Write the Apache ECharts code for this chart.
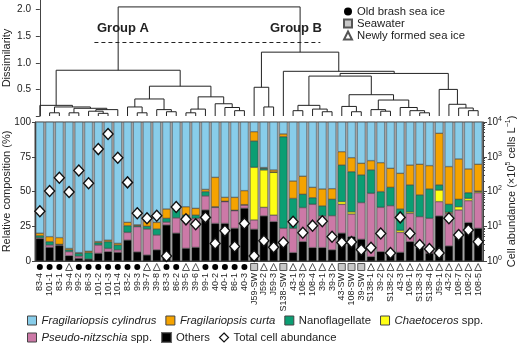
<!DOCTYPE html>
<html>
<head>
<meta charset="utf-8">
<script src="https://cdn.jsdelivr.net/npm/echarts@6/dist/echarts.min.js"></script>
<style>
  html, body { margin: 0; padding: 0; background: #fff; }
  #chart { width: 520px; height: 345px; }
</style>
</head>
<body>
<div id="chart"></div>
<script>
// samples, in dendrogram order
var samples = ['83-4', '101-1', '83-1', '39-4', '99-2', '86-3', '101-2', '101-3', '101-4', '83-2',
    '99-3', '39-7', '39-8', '83-3', '86-2', '39-5', '39-6', '99-1', '40-2', '40-1', '86-1', '40-3',
    'J59-SW', 'J59-2', 'J59-3', 'S138-SW', '43-1', '108-3', '108-4', '39-1', '39-3', '43-SW', '108-SW',
    '39-SW', 'S138-1', '39-2', 'S138-2', '43-3', '108-1', 'S138-3', 'S138-4', 'J59-1', '43-2', '108-7',
    '108-2', '108-5'];

// O = old brash sea ice, S = seawater, N = newly formed sea ice
var sampleType = ['O', 'O', 'O', 'N', 'O', 'O', 'O', 'O', 'O', 'O', 'O', 'N', 'N', 'O', 'O', 'N', 'N', 'O',
    'O', 'O', 'O', 'O', 'S', 'N', 'N', 'S', 'N', 'N', 'N', 'N', 'N', 'S', 'S', 'S', 'N', 'N', 'N', 'N', 'N',
    'N', 'N', 'N', 'N', 'N', 'N', 'N'];

// relative composition (%)
var others = [16, 9.8, 11, 3.8, 1.9, 1.4, 5.5, 6.7, 6.2, 15, 6.5, 4.3, 8, 25.9, 20, 9.1, 9.8, 36.7, 27, 27,
    23.5, 37.9, 22.8, 32.4, 28.3, 13.9, 6, 13.9, 9.6, 9.6, 8, 20, 17.5, 15.6, 3.1, 6.7, 6.7, 6.2, 13.9, 9.8,
    5.5, 32.4, 10.8, 19.2, 27.6, 23.5];
var pseudo = [0.7, 1.7, 0.5, 2.9, 1.6, 0, 6, 2.3, 1.8, 5.6, 18.2, 18.7, 10.7, 2.1, 11, 22.1, 20.9, 10.1, 11.6,
    15.7, 12.7, 2.4, 6.7, 6.2, 4.7, 9.6, 17.5, 24.5, 31.2, 22.8, 24.6, 20.8, 16.3, 26.4, 45.6, 31.9, 33.1,
    14.4, 20.4, 22.1, 25.2, 10.3, 23.5, 17.5, 15.8, 25.6];
var chaetoceros = [0, 0, 0, 0, 0, 0, 0, 0, 0, 0, 0, 0, 0, 0, 0, 0, 0, 0, 0, 0, 0, 0, 37.9, 26.9, 30.8, 0, 0,
    0, 0, 0, 0, 1.9, 1.5, 0, 0, 0, 0, 1.4, 1, 0, 0, 8.3, 0.7, 2.3, 1.6, 0.9];
var nano = [1.5, 2.4, 0.5, 1.3, 2, 4.6, 1.7, 4.9, 3.5, 4.8, 0.7, 2, 4.3, 2.7, 7.6, 1.8, 2.3, 3.1, 0.4, 0.3,
    0.3, 0.2, 18.9, 1.2, 0.2, 65.9, 21.5, 9.6, 4.7, 7.2, 11.8, 26.3, 28.9, 19.9, 16.8, 11.3, 13.2, 15.4,
    19.4, 15.6, 21.1, 3.7, 5.8, 5.4, 4.1, 0.3];
var curta = [1.8, 3.6, 4.8, 1, 0.5, 1, 0.8, 1.1, 1.2, 2.4, 0.6, 3.5, 4.8, 6.7, 0.4, 6, 4.9, 1.6, 21.2, 2.8,
    9.3, 10.1, 6.7, 0.5, 1.5, 2, 12.5, 13, 7.5, 12.2, 7.6, 9.6, 10.1, 8.4, 6.7, 20.8, 13.7, 25.7, 14.3,
    22.1, 16.8, 37.2, 27.1, 29, 17.1, 19.3];

// total cell abundance (x10^5 cells per L)
var abundance = [27, 103, 250, 97, 400, 172, 1660, 4500, 940, 183, 23.6, 17, 20, 1.4, 36, 15.8, 11.4, 18,
    3.2, 7.4, 2.6, 12, 1.4, 3.8, 2.5, 3.4, 13.5, 6.5, 10.4, 14, 5, 3.4, 3.5, 2.1, 2.4, 6.2, 1.7, 18, 6.2,
    2.9, 2.2, 1.7, 17, 5.6, 7.8, 3.6];

// dendrogram merges: [child, child, dissimilarity]; ids < 46 are samples, 46+ are earlier merges
var merges = [
    [1, 2, 0.06], [3, 4, 0.06], [6, 7, 0.05], [5, 48, 0.09], [49, 8, 0.12], [47, 50, 0.145],
    [46, 51, 0.17], [0, 52, 0.2], [10, 11, 0.06], [9, 54, 0.17], [13, 14, 0.08], [12, 56, 0.12],
    [55, 57, 0.32], [15, 16, 0.06], [59, 17, 0.13], [20, 21, 0.1], [19, 61, 0.16], [18, 62, 0.23],
    [60, 63, 0.36], [58, 64, 0.56], [53, 65, 0.86],
    [23, 24, 0.17], [22, 67, 0.54], [26, 27, 0.1], [29, 30, 0.08], [28, 70, 0.13], [69, 71, 0.2],
    [32, 33, 0.08], [31, 73, 0.18], [35, 36, 0.09], [34, 75, 0.12], [39, 40, 0.06], [38, 77, 0.1],
    [37, 78, 0.16], [76, 79, 0.3], [74, 80, 0.4], [72, 81, 0.75], [44, 45, 0.1], [43, 83, 0.15],
    [42, 84, 0.22], [41, 85, 0.5], [82, 86, 0.8], [25, 87, 0.84], [68, 88, 1.2], [66, 89, 2.05]
];
var cutHeight = 1.39;
var cutFrom = 5.6, cutTo = 28.8;

// leaf/merge positions for the dendrogram
var nodeX = [], nodeH = [];
samples.forEach(function (s, i) { nodeX.push(i); nodeH.push(0); });
merges.forEach(function (m) {
    nodeX.push((nodeX[m[0]] + nodeX[m[1]]) / 2);
    nodeH.push(m[2]);
});
var dendroData = merges.map(function (m) {
    return [nodeX[m[0]], nodeH[m[0]], nodeX[m[1]], nodeH[m[1]], m[2]];
});

function noZero(arr) {
    return arr.map(function (v) { return v > 0 ? v : '-'; });
}
var cylindrus = samples.map(function (s, i) {
    return +(100 - others[i] - pseudo[i] - chaetoceros[i] - nano[i] - curta[i]).toFixed(1);
});
function typeData(t) {
    return sampleType.map(function (v, i) { return v === t ? [i, 0] : null; }).filter(function (d) { return d; });
}

var txt = '#222';
var lgFont = 11.3;
var ital = { i: { fontStyle: 'italic', fontSize: lgFont, color: txt } };

var chart = echarts.init(document.getElementById('chart'));

function barSeries(name, data, color) {
    return {
        name: name, type: 'bar', stack: 'comp', xAxisIndex: 0, yAxisIndex: 0,
        barCategoryGap: '18%', data: noZero(data),
        itemStyle: { color: color, borderColor: 'rgba(40,40,40,0.7)', borderWidth: 0.5 }
    };
}

var option = {
    animation: false,
    textStyle: { fontFamily: 'Liberation Sans, Arial, sans-serif' },
    grid: [
        { left: 35, right: 37, top: 122, height: 139, outerBoundsMode: 'none', show: true, backgroundColor: '#a4a4a4', borderColor: '#444', borderWidth: 1 },
        { left: 35, right: 37, top: 0, height: 116, outerBoundsMode: 'none' },
        { left: 35, right: 37, top: 263, height: 8, outerBoundsMode: 'none' }
    ],
    legend: [
        {
            orient: 'vertical', left: 338, top: 1, itemGap: 1, itemWidth: 8, itemHeight: 8,
            textStyle: { fontSize: 11.3, color: txt },
            data: ['Old brash sea ice', 'Seawater', 'Newly formed sea ice'], selectedMode: false
        },
        {
            left: 27, top: 315, width: 493, padding: 0, itemGap: 9, itemWidth: 9, itemHeight: 9, icon: 'rect',
            textStyle: { fontSize: lgFont, color: txt, rich: ital },
            itemStyle: { borderColor: '#444', borderWidth: 1 },
            data: ['Fragilariopsis cylindrus', 'Fragilariopsis curta', 'Nanoflagellate', 'Chaetoceros spp.'],
            formatter: legendFmt, selectedMode: false
        },
        {
            left: 27, top: 332, width: 493, padding: 0, itemGap: 9, itemWidth: 9, itemHeight: 9,
            textStyle: { fontSize: lgFont, color: txt, rich: ital },
            data: [{ name: 'Pseudo-nitzschia spp.', icon: 'rect', itemStyle: { borderColor: '#444', borderWidth: 1 } },
                { name: 'Others', icon: 'rect' },
                { name: 'Total cell abundance', icon: 'diamond', itemStyle: { color: '#fff', borderColor: '#111', borderWidth: 1.2 } }],
            formatter: legendFmt, selectedMode: false
        }
    ],
    graphic: [
        { type: 'text', left: 97, top: 22, style: { text: 'Group A', font: 'bold 13px Liberation Sans, Arial', fill: txt } },
        { type: 'text', left: 270, top: 22, style: { text: 'Group B', font: 'bold 13px Liberation Sans, Arial', fill: txt } }
    ],
    xAxis: [
        {
            type: 'category', gridIndex: 0, data: samples,
            axisTick: { show: false }, axisLine: { lineStyle: { color: '#444' } },
            axisLabel: { interval: 0, rotate: 90, fontSize: 9, color: txt, margin: 12 }
        },
        { type: 'value', gridIndex: 1, min: -0.5, max: samples.length - 0.5, show: false },
        { type: 'category', gridIndex: 2, data: samples, show: false }
    ],
    yAxis: [
        {
            type: 'value', gridIndex: 0, min: 0, max: 100, interval: 25,
            name: 'Relative composition (%)', nameLocation: 'middle', nameGap: 23, nameMoveOverlap: false,
            nameTextStyle: { fontSize: 11, color: txt },
            axisLine: { show: true, lineStyle: { color: '#444' } },
            axisTick: { show: true, length: 3, lineStyle: { color: '#444' } },
            axisLabel: { fontSize: 10, color: txt, margin: 4 },
            splitLine: { show: false }
        },
        {
            type: 'log', gridIndex: 0, min: 1, max: 10000, logBase: 10, position: 'right',
            name: 'Cell abundance (\u00d710{s|5} cells L{s|\u22121})', nameLocation: 'middle', nameGap: 22, nameRotate: 90,
            nameMoveOverlap: false,
            nameTextStyle: { fontSize: 11, color: txt, rich: { s: { fontSize: 7, color: txt, padding: [0, 0, 6, 0] } } },
            axisLine: { show: true, lineStyle: { color: '#444' } },
            axisTick: { show: true, length: 4, lineStyle: { color: '#444' } },
            minorTick: { show: true, splitNumber: 9, length: 2, lineStyle: { color: '#444' } },
            axisLabel: {
                fontSize: 10, color: txt, margin: 4,
                formatter: function (v) { return '10{s|' + Math.round(Math.log10(v)) + '}'; },
                rich: { s: { fontSize: 7, color: txt, padding: [0, 0, 6, 0] } }
            },
            splitLine: { show: false }
        },
        {
            type: 'value', gridIndex: 1, min: 0, max: 2.18, interval: 0.5,
            name: 'Dissimilarity', nameLocation: 'middle', nameGap: 23, nameMoveOverlap: false,
            nameTextStyle: { fontSize: 11, color: txt },
            axisLine: { show: true, lineStyle: { color: '#444' } },
            axisTick: { show: true, length: 4, lineStyle: { color: '#444' } },
            axisLabel: {
                fontSize: 10, color: txt, margin: 4, showMaxLabel: false,
                formatter: function (v) { return v === 0 ? '' : v.toFixed(1); }
            },
            splitLine: { show: false }
        },
        { type: 'value', gridIndex: 2, min: -1, max: 1, show: false }
    ],
    series: [
        barSeries('Others', others, '#000'),
        barSeries('Pseudo-nitzschia spp.', pseudo, '#cc79a7'),
        barSeries('Chaetoceros spp.', chaetoceros, '#ffff14'),
        barSeries('Nanoflagellate', nano, '#0b9e73'),
        barSeries('Fragilariopsis curta', curta, '#f5a300'),
        barSeries('Fragilariopsis cylindrus', cylindrus, '#88cdea'),
        {
            name: 'Total cell abundance', type: 'scatter', xAxisIndex: 0, yAxisIndex: 1,
            symbol: 'diamond', symbolSize: [10, 11], data: abundance, z: 5,
            itemStyle: { color: '#fff', opacity: 1, borderColor: '#111', borderWidth: 1.4 }
        },
        {
            type: 'custom', xAxisIndex: 1, yAxisIndex: 2, data: dendroData, silent: true,
            renderItem: function (params, api) {
                var a0 = api.coord([api.value(0), api.value(1)]);
                var a1 = api.coord([api.value(0), api.value(4)]);
                var b1 = api.coord([api.value(2), api.value(4)]);
                var b0 = api.coord([api.value(2), api.value(3)]);
                return {
                    type: 'polyline',
                    shape: { points: [a0, a1, b1, b0] },
                    style: { stroke: '#222', lineWidth: 1, fill: null }
                };
            },
            markLine: {
                silent: true, symbol: 'none', label: { show: false },
                lineStyle: { color: '#222', type: [4, 3], width: 1 },
                data: [[{ coord: [cutFrom, cutHeight] }, { coord: [cutTo, cutHeight] }]]
            }
        },
        {
            name: 'Old brash sea ice', type: 'scatter', xAxisIndex: 2, yAxisIndex: 3,
            symbol: 'circle', symbolSize: 6, data: typeData('O'),
            itemStyle: { color: '#000', opacity: 1 }
        },
        {
            name: 'Seawater', type: 'scatter', xAxisIndex: 2, yAxisIndex: 3,
            symbol: 'rect', symbolSize: 7, data: typeData('S'),
            itemStyle: { color: '#c8c8c8', opacity: 1, borderColor: '#555', borderWidth: 1 }
        },
        {
            name: 'Newly formed sea ice', type: 'scatter', xAxisIndex: 2, yAxisIndex: 3,
            symbol: 'triangle', symbolSize: 7, data: typeData('N'),
            itemStyle: { color: '#fff', opacity: 1, borderColor: '#555', borderWidth: 1 }
        }
    ]
};

function legendFmt(name) {
    if (name === 'Fragilariopsis cylindrus' || name === 'Fragilariopsis curta') return '{i|' + name + '}';
    if (name === 'Chaetoceros spp.') return '{i|Chaetoceros} spp.';
    if (name === 'Pseudo-nitzschia spp.') return '{i|Pseudo-nitzschia} spp.';
    return name;
}

chart.setOption(option);
</script>
</body>
</html>
